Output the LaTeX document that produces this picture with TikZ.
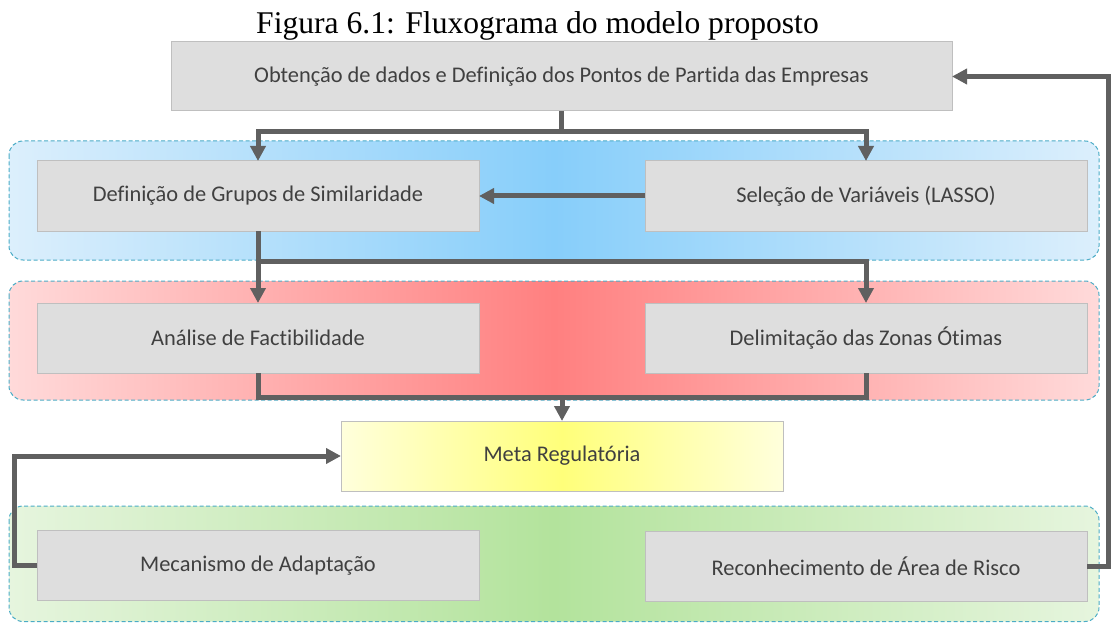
\documentclass[tikz,border=0pt]{standalone}
\usepackage{fontspec}
\setmainfont{Liberation Serif}
\newfontfamily\boxfont[Ligatures={NoCommon}]{Carlito}
\usetikzlibrary{arrows.meta}
\definecolor{boxfill}{HTML}{DEDEDE}
\definecolor{boxline}{HTML}{BFBFBF}
\definecolor{txt}{HTML}{404040}
\definecolor{flowc}{HTML}{606060}
\definecolor{grpline}{HTML}{4BACC6}
\definecolor{blueE}{HTML}{DCEFFC}
\definecolor{blueC}{HTML}{87CEFA}
\definecolor{redE}{HTML}{FFDADA}
\definecolor{redC}{HTML}{FF8080}
\definecolor{greenE}{HTML}{E6F5DE}
\definecolor{greenC}{HTML}{B3E39C}
\definecolor{yelE}{HTML}{FFFFDC}
\definecolor{yelC}{HTML}{FFFF7A}
\tikzset{
  procbox/.style={draw=boxline, line width=1pt, fill=boxfill, minimum width=442pt,
    minimum height=70pt, inner sep=0pt, outer sep=0pt, text=txt,
    font=\boxfont\fontsize{22.4pt}{26pt}\selectfont},
  grpborder/.style={draw=grpline, line width=1pt, dash pattern=on 4pt off 2.5pt, rounded corners=14pt},
  flowline/.style={draw=flowc, line width=5pt, line join=miter},
  flowarr/.style={flowline, -{Triangle[length=15pt,width=15pt]}},
}
\begin{document}
\begin{tikzpicture}[x=1pt,y=-1pt]
\useasboundingbox (0,0) rectangle (1112,623);
% title
\node[anchor=base, inner sep=0pt, font=\fontsize{31.6pt}{36pt}\selectfont] (title) at (537.5,33.3) {Figura 6.1: Fluxograma do modelo proposto};
% groups
\shade[left color=blueE, right color=blueE, middle color=blueC, rounded corners=14pt] (9,141) rectangle (1099,260);
\path[grpborder] (9,141) rectangle (1099,260);
\shade[left color=redE, right color=redE, middle color=redC, rounded corners=14pt] (9,281) rectangle (1099,400);
\path[grpborder] (9,281) rectangle (1099,400);
\shade[left color=greenE, right color=greenE, middle color=greenC, rounded corners=14pt] (9,506) rectangle (1099,621.5);
\path[grpborder] (9,506) rectangle (1099,621.5);
% boxes
\node[procbox, minimum width=781pt, minimum height=69pt] (top) at (561.5,76.5) {Obtenção de dados e Definição dos Pontos de Partida das Empresas};
\node[procbox] (def) at (258,196) {Definição de Grupos de Similaridade};
\node[procbox] (sel) at (866,196) {Seleção de Variáveis (LASSO)};
\node[procbox] (ana) at (258,338) {Análise de Factibilidade};
\node[procbox] (del) at (866,338) {Delimitação das Zonas Ótimas};
\node[procbox, fill=none, draw=none] (meta) at (562,456) {};
\node[procbox] (mec) at (258,565.5) {Mecanismo de Adaptação};
\node[procbox] (rec) at (866,566) {Reconhecimento de Área de Risco};
% meta box shading
\shade[left color=yelE, right color=yelE, middle color=yelC] (meta.north west) rectangle (meta.south east);
\draw[draw=boxline, line width=1pt] (meta.north west) rectangle (meta.south east);
\node[procbox, fill=none, draw=none] (metatext) at (meta.center) {Meta Regulatória};
% junction coordinates
\coordinate (j1) at (561.5,131.5);
\coordinate (j2) at (866,261.5);
\coordinate (j3) at (562,397);
\coordinate (lc) at (14.5,565.5);
\coordinate (rc) at (1108,566);
% connectors
\draw[flowarr] (top.south) -- (j1) -| (def.north);
\draw[flowarr] (j1) -| (sel.north);
\draw[flowarr] (sel.west) -- (def.east);
\draw[flowarr] (def.south) -- (ana.north);
\draw[flowarr] (def.south) |- (j2) -- (del.north);
\draw[flowline] (ana.south) |- (j3) -| (del.south);
\draw[flowarr] (j3) -- (meta.north);
\draw[flowarr] (mec.west) -- (lc) |- (meta.west);
\draw[flowarr] (rec.east) -- (rc) |- (top.east);
\end{tikzpicture}
\end{document}
